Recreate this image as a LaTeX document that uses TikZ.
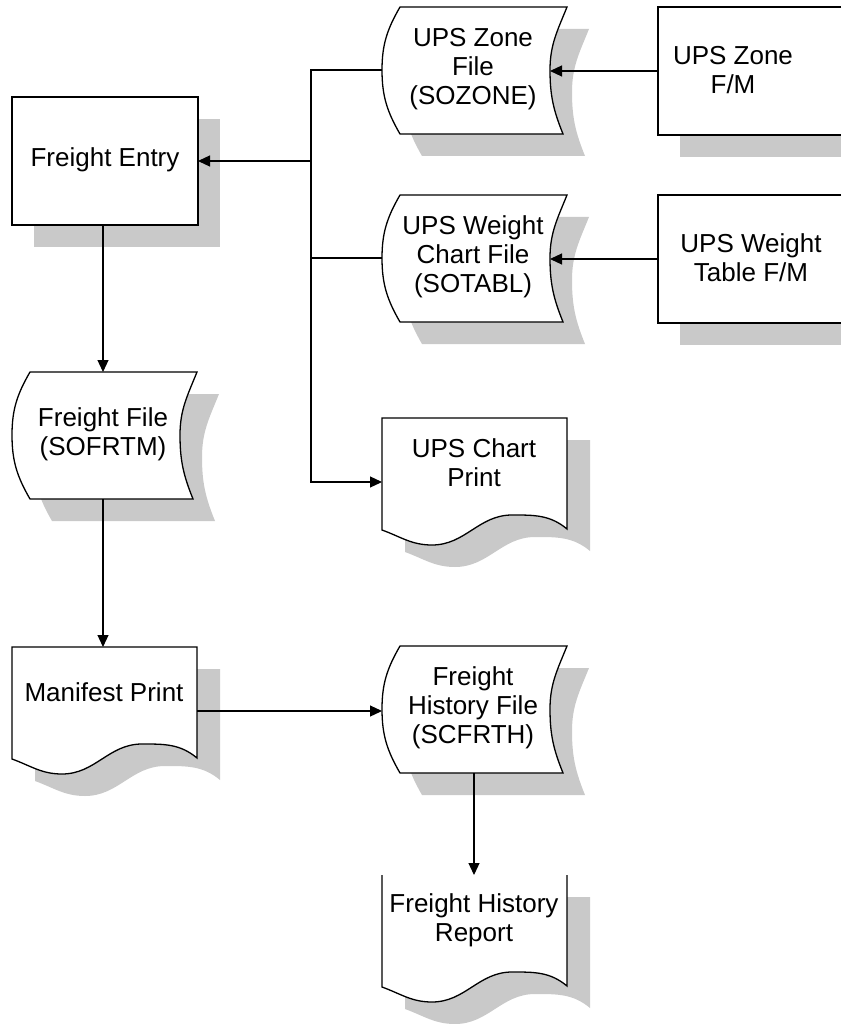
\documentclass[tikz,border=0pt]{standalone}
\usepackage{fontspec}
\setmainfont{Liberation Sans}
\usetikzlibrary{arrows.meta}

\tikzset{
  dropfill/.style={fill=black!21, draw=none},
  boxline/.style={draw, fill=white, line width=1.3pt},
  boxtext/.style={align=center, inner sep=0pt, font=\fontsize{26}{29}\selectfont},
  link/.style={line width=1.2pt},
  flow/.style={line width=1.2pt, -{Triangle[length=12pt,width=11pt]}},
}

% outlines, drawn in local coordinates (y grows downwards)
\newcommand{\storedpath}{(18,0) -- (185,0) to[out=-112,in=90] (168,63) to[out=-90,in=112] (181,127) -- (18,127) to[out=120,in=-90] (0,63) to[out=90,in=-120] cycle}
\newcommand{\docpath}{(0,0) -- (185,0) -- (185,111) to[out=140,in=0] (130,97) to[out=180,in=0] (50,127) to[out=180,in=-20] (0,112) -- cycle}

% process box: {name}{x}{y}{text}
\newcommand{\procbox}[4]{%
  \begin{scope}[shift={(#2,#3)}]
    \fill[dropfill] (22,22) rectangle (208,150);
    \draw[boxline] (0,0) rectangle (186,128);
    \node[boxtext] (#1) at (93,63) {#4};
    \coordinate (#1-w) at (0,64);
    \coordinate (#1-e) at (186,64);
    \coordinate (#1-s) at (91,128);
  \end{scope}}

% file maintenance box, running off the right margin: [text x]{name}{x}{y}{text}
\newcommand{\fmbox}[5][93]{%
  \begin{scope}[shift={(#3,#4)}]
    \fill[dropfill] (22,128) rectangle (183,150);
    \fill[white] (0,0) rectangle (183,128);
    \draw[line width=1.3pt] (183,0) -- (0,0) -- (0,128) -- (183,128);
    \node[boxtext] (#2) at (#1,63) {#5};
    \coordinate (#2-w) at (0,64);
  \end{scope}}

% stored data: {name}{x}{y}{text}
\newcommand{\storedfile}[4]{%
  \begin{scope}[shift={(#2,#3)}]
    \fill[dropfill, shift={(22,22)}] \storedpath;
    \draw[boxline] \storedpath;
    \node[boxtext] (#1) at (91,62) {#4};
    \coordinate (#1-w) at (0,63);
    \coordinate (#1-e) at (168,63);
    \coordinate (#1-n) at (92,0);
    \coordinate (#1-s) at (92,127);
  \end{scope}}

% document: [top line]{name}{x}{y}{text}
\newcommand{\docshape}[5][1]{%
  \begin{scope}[shift={(#3,#4)}]
    \fill[dropfill, shift={(23,22)}] \docpath;
    \ifnum#1=1
      \draw[boxline] \docpath;
    \else
      \fill[white] \docpath;
      \draw[line width=1.3pt] (0,0) -- (0,112) to[out=-20,in=180] (50,127) to[out=0,in=180] (130,97) to[out=0,in=140] (185,111) -- (185,0);
    \fi
    \node[boxtext] (#2) at (92,45) {#5};
    \coordinate (#2-n) at (92,0);
    \coordinate (#2-w) at (0,64);
    \coordinate (#2-e) at (185,64);
  \end{scope}}

\begin{document}
\begin{tikzpicture}[x=1pt, y=-1pt]
  \useasboundingbox (0,0) rectangle (841,1024);

  \procbox{entry}{12}{97}{Freight Entry}
  \fmbox[75]{zonefm}{658}{7}{UPS Zone\\F/M}
  \fmbox{weightfm}{658}{195}{UPS Weight\\Table F/M}

  \storedfile{zonefile}{382}{7}{UPS Zone\\File\\(SOZONE)}
  \storedfile{weightfile}{382}{195}{UPS Weight\\Chart File\\(SOTABL)}
  \storedfile{frtfile}{12}{372}{Freight File\\(SOFRTM)}
  \storedfile{histfile}{382}{646}{Freight\\History File\\(SCFRTH)}

  \docshape{chartprint}{382}{418}{UPS Chart\\Print}
  \docshape{manifest}{12}{647}{Manifest Print}
  \docshape[0]{histreport}{382}{875}{Freight History\\Report}

  \coordinate (bus) at (311,0);

  % files feeding freight entry
  \draw[flow] (zonefm-w) -- (zonefm-w -| zonefile-e);
  \draw[flow] (weightfm-w) -- (weightfm-w -| weightfile-e);
  \draw[flow] (zonefile-w) -| (bus |- chartprint-w) -- (chartprint-w);
  \draw[link] (weightfile-w) -- (weightfile-w -| bus);
  \draw[flow] (entry-e -| bus) -- (entry-e);

  % main chain
  \draw[flow] (entry-s) -- (entry-s |- frtfile-n);
  \draw[flow] (entry-s |- frtfile-s) -- (entry-s |- manifest-n);
  \draw[flow] (manifest-e) -- (manifest-e -| histfile-w);
  \draw[flow] (histfile-s) -- (histreport-n);
\end{tikzpicture}
\end{document}
